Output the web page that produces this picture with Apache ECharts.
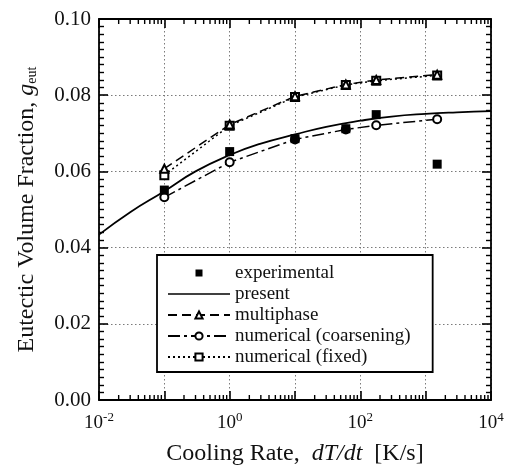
<!DOCTYPE html>
<html>
<head>
<meta charset="utf-8">
<script src="https://cdn.jsdelivr.net/npm/echarts@6/dist/echarts.min.js"></script>
<style>
  html, body { margin: 0; padding: 0; background: #fff; }
  #chart { width: 511px; height: 471px; }
</style>
</head>
<body>
<div id="chart"></div>
<script>
// Cooling rates (K/s) at which the measured and simulated fractions are given
const coolingRates = [0.1, 1, 10, 60, 175, 1500];
const experimental = [0.0551, 0.0652, 0.0686, 0.0712, 0.0749, 0.0619];
const multiphase = [0.0607, 0.0723, 0.0797, 0.0828, 0.0840, 0.0854];
const numericalCoarsening = [0.0532, 0.0624, 0.0684, 0.0710, 0.0721, 0.0737];
const numericalFixed = [0.0590, 0.0720, 0.0795, 0.0827, 0.0838, 0.0852];

// Present model, sampled along the cooling-rate range
const presentRates = [0.01, 0.03, 0.1, 0.3, 1, 3, 10, 30, 100, 300, 1000, 3000, 10000];
const presentValues = [0.0434, 0.0493, 0.0548, 0.0600, 0.0643, 0.0673, 0.0697, 0.0717, 0.0733, 0.0744, 0.0751, 0.0755, 0.0758];

// Axis ranges and labelled decades
const xRange = [0.01, 10000];
const yRange = [0, 0.10];
const yStep = 0.02;
const xLabelExponents = [-2, 0, 2, 4];
const minorMultipliers = [2, 3, 4, 5, 6, 7, 8, 9];

const SERIF = 'Liberation Serif';
const INK = '#000';
const TEXT = '#111';

const pairs = (xs, ys) => xs.map((x, i) => [x, ys[i]]);

// Logarithmic minor tick positions (2..9 within each decade)
const minorTicks = [];
for (let e = Math.round(Math.log10(xRange[0])); e < Math.round(Math.log10(xRange[1])); e++) {
  minorMultipliers.forEach(m => minorTicks.push([m * Math.pow(10, e), yRange[0]]));
}

const chart = echarts.init(document.getElementById('chart'), null, { renderer: 'canvas' });

const xAxisBase = {
  type: 'log',
  logBase: 10,
  min: xRange[0],
  max: xRange[1],
  axisLine: { show: true, onZero: false, lineStyle: { color: INK, width: 1.8 } },
  axisTick: { show: true, inside: true, length: 9, lineStyle: { color: INK, width: 1.6 } },
  minorTick: { show: false },
  splitLine: { show: false },
  minorSplitLine: { show: false }
};

const yAxisBase = {
  type: 'value',
  min: yRange[0],
  max: yRange[1],
  interval: yStep,
  axisLine: { show: true, onZero: false, lineStyle: { color: INK, width: 1.8 } },
  axisTick: { show: true, inside: true, length: 9, lineStyle: { color: INK, width: 1.6 } },
  minorTick: { show: true, splitNumber: 10, length: 5, lineStyle: { color: INK, width: 1.4 } },
  splitLine: { show: false },
  minorSplitLine: { show: false }
};

const gridDots = { color: '#7a7a7a', width: 1, type: [1.5, 2.5] };

const option = {
  backgroundColor: '#fff',
  animation: false,
  grid: { left: 99, right: 20, top: 19, bottom: 66, containLabel: false },
  xAxis: [
    Object.assign({}, xAxisBase, {
      position: 'bottom',
      splitLine: { show: true, lineStyle: gridDots },
      axisLabel: {
        show: true,
        margin: 11,
        color: TEXT,
        fontFamily: SERIF,
        fontSize: 19,
        formatter: v => {
          const e = Math.round(Math.log10(v));
          return xLabelExponents.includes(e) ? '{b|10}{s|' + e + '}' : '';
        },
        rich: {
          b: { fontFamily: SERIF, fontSize: 19, color: TEXT, lineHeight: 22, verticalAlign: 'bottom' },
          s: { fontFamily: SERIF, fontSize: 13, color: TEXT, lineHeight: 22, verticalAlign: 'top' }
        }
      },
      name: 'Cooling Rate,  {i|dT/dt}  [K/s]',
      nameLocation: 'middle',
      nameGap: 42,
      nameTextStyle: {
        fontFamily: SERIF,
        fontSize: 24,
        color: TEXT,
        rich: { i: { fontFamily: SERIF, fontSize: 24, fontStyle: 'italic', color: TEXT } }
      }
    }),
    Object.assign({}, xAxisBase, { position: 'top', axisLabel: { show: false } })
  ],
  yAxis: [
    Object.assign({}, yAxisBase, {
      position: 'left',
      splitLine: { show: true, lineStyle: gridDots },
      axisLabel: {
        show: true,
        margin: 8,
        color: TEXT,
        fontFamily: SERIF,
        fontSize: 21,
        formatter: v => v.toFixed(2)
      },
      name: 'Eutectic Volume Fraction, {i|g}{sub|eut}',
      nameLocation: 'middle',
      nameGap: 60,
      nameTextStyle: {
        fontFamily: SERIF,
        fontSize: 24,
        color: TEXT,
        rich: {
          i: { fontFamily: SERIF, fontSize: 24, fontStyle: 'italic', color: TEXT },
          sub: { fontFamily: SERIF, fontSize: 14, color: TEXT, verticalAlign: 'bottom' }
        }
      }
    }),
    Object.assign({}, yAxisBase, { position: 'right', axisLabel: { show: false } })
  ],
  legend: {
    show: true,
    orient: 'vertical',
    left: 157,
    top: 255,
    itemWidth: 62,
    itemHeight: 9,
    itemGap: 2,
    padding: [8.5, 22, 5.5, 10],
    borderColor: INK,
    borderWidth: 1.8,
    backgroundColor: '#fff',
    selectedMode: false,
    textStyle: { fontFamily: SERIF, fontSize: 19, lineHeight: 19, color: TEXT },
    data: [
      { name: 'experimental', icon: 'path://M0,0M9,9M1,1h7v7h-7z' },
      { name: 'present', icon: 'path://M0,0h62v1.7h-62z' },
      { name: 'multiphase' },
      { name: 'numerical (coarsening)' },
      { name: 'numerical (fixed)' }
    ]
  },
  series: [
    {
      name: 'x minor ticks',
      type: 'custom',
      xAxisIndex: 0,
      yAxisIndex: 0,
      silent: true,
      clip: false,
      data: minorTicks,
      encode: { x: 0, y: 1 },
      renderItem: (params, api) => {
        const v = api.value(0);
        const b = api.coord([v, yRange[0]]);
        const t = api.coord([v, yRange[1]]);
        const st = { stroke: INK, lineWidth: 1.4 };
        return {
          type: 'group',
          children: [
            { type: 'line', shape: { x1: b[0], y1: b[1], x2: b[0], y2: b[1] - 5 }, style: st },
            { type: 'line', shape: { x1: t[0], y1: t[1], x2: t[0], y2: t[1] + 5 }, style: st }
          ]
        };
      }
    },
    {
      name: 'numerical (fixed)',
      type: 'line',
      data: pairs(coolingRates, numericalFixed),
      symbol: 'emptyRect',
      symbolSize: 8,
      lineStyle: { color: INK, width: 1.5, type: [2, 3] },
      itemStyle: { color: INK, borderColor: INK, borderWidth: 1.4 },
      z: 3
    },
    {
      name: 'multiphase',
      type: 'line',
      data: pairs(coolingRates, multiphase),
      symbol: 'emptyTriangle',
      symbolSize: 8,
      lineStyle: { color: INK, width: 1.5, type: [9, 5] },
      itemStyle: { color: INK, borderColor: INK, borderWidth: 1.4 },
      z: 3
    },
    {
      name: 'numerical (coarsening)',
      type: 'line',
      data: pairs(coolingRates, numericalCoarsening),
      symbol: 'emptyCircle',
      symbolSize: 8,
      lineStyle: { color: INK, width: 1.5, type: [12, 4, 3, 4] },
      itemStyle: { color: INK, borderColor: INK, borderWidth: 1.4 },
      z: 3
    },
    {
      name: 'present',
      type: 'line',
      data: pairs(presentRates, presentValues),
      smooth: true,
      symbol: 'none',
      lineStyle: { color: INK, width: 1.8, type: 'solid' },
      itemStyle: { color: INK },
      z: 4
    },
    {
      name: 'experimental',
      type: 'scatter',
      data: pairs(coolingRates, experimental),
      symbol: 'rect',
      symbolSize: 9,
      itemStyle: { color: INK, opacity: 1 },
      z: 5
    }
  ]
};

chart.setOption(option);
</script>
</body>
</html>
